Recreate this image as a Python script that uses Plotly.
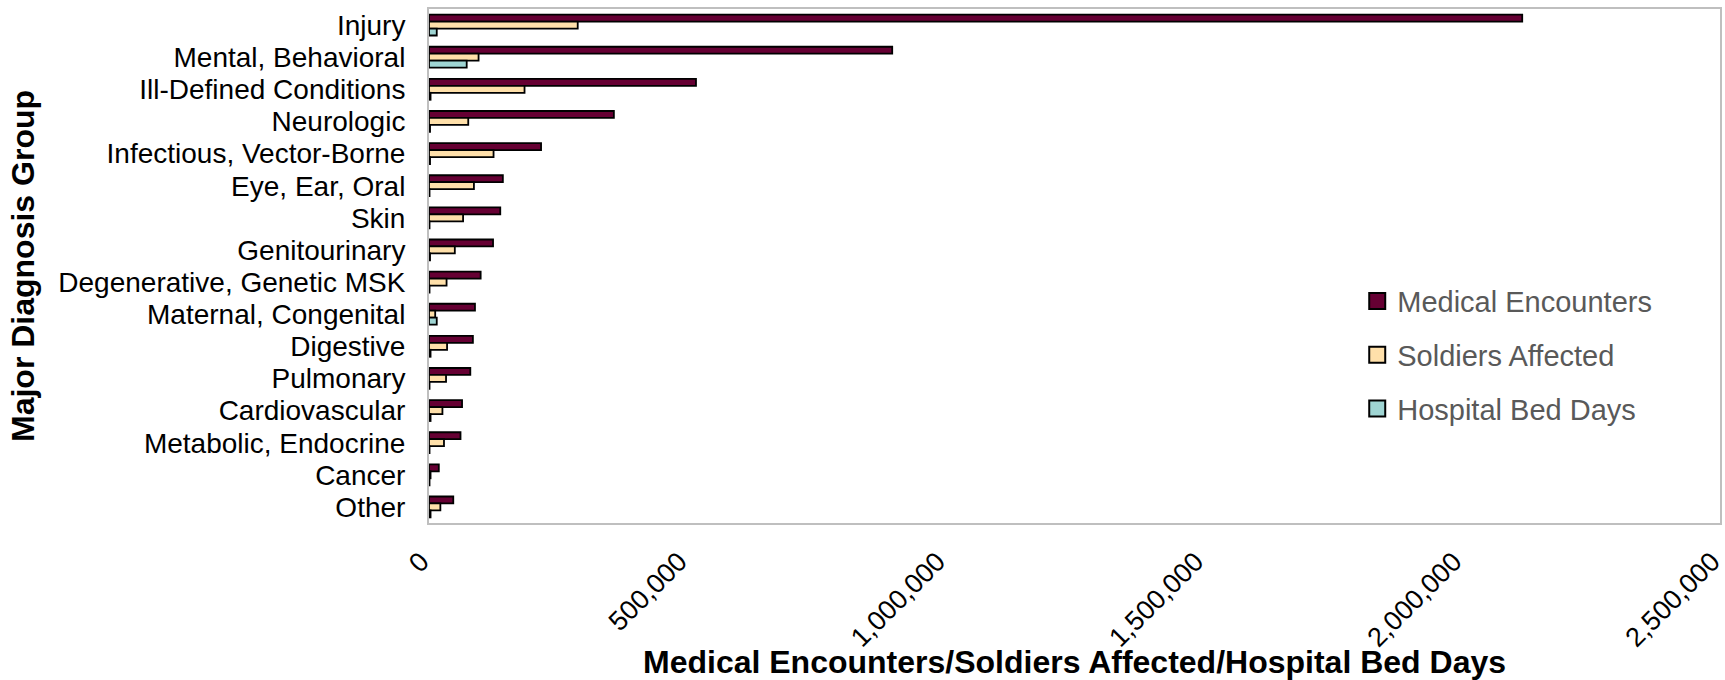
import plotly.graph_objects as go

categories = ["Injury", "Mental, Behavioral", "Ill-Defined Conditions", "Neurologic",
              "Infectious, Vector-Borne", "Eye, Ear, Oral", "Skin", "Genitourinary",
              "Degenerative, Genetic MSK", "Maternal, Congenital", "Digestive", "Pulmonary",
              "Cardiovascular", "Metabolic, Endocrine", "Cancer", "Other"]

medical_encounters = [2117000, 897000, 517000, 358000, 217000, 143000, 138000, 124000,
                      100000, 89000, 85000, 80000, 64000, 61000, 19000, 47000]
soldiers_affected = [288000, 96000, 185000, 76000, 125000, 87000, 66000, 50000,
                     34000, 12000, 35000, 33000, 26000, 29000, 3000, 22000]
hospital_bed_days = [15000, 73000, 3000, 2000, 2000, 1000, 1000, 2000,
                     1000, 15000, 3000, 1000, 3000, 1000, 1000, 3000]

x_tick_values = [0, 500000, 1000000, 1500000, 2000000, 2500000]

series_names = ["Medical Encounters", "Soldiers Affected", "Hospital Bed Days"]
series_values = [medical_encounters, soldiers_affected, hospital_bed_days]
series_colors = ["#660033", "#FFE0AA", "#9FD5D3"]

fig = go.Figure()
for i, (name, vals, color) in enumerate(zip(series_names, series_values, series_colors)):
    fig.add_trace(go.Bar(
        y=categories, x=vals, name=name, orientation="h",
        marker=dict(color=color, line=dict(color="#000000", width=1.8)),
        showlegend=False,
    ))
# legend entries with square swatches
for i, (name, color) in enumerate(zip(series_names, series_colors)):
    fig.add_trace(go.Scatter(
        x=[None], y=[None], name=name, mode="markers",
        marker=dict(symbol="square", size=16, color=color,
                    line=dict(color="#000000", width=2)),
        legendgroup=f"g{i}", showlegend=True, hoverinfo="skip",
    ))

FONT = "Liberation Sans, Arial, sans-serif"

fig.update_layout(
    width=1725, height=680,
    margin=dict(l=429, r=5, t=9, b=157, autoexpand=False),
    paper_bgcolor="white", plot_bgcolor="white",
    barmode="group", bargap=0.35, bargroupgap=0,
    font=dict(family=FONT, color="#000000"),
    showlegend=True,
    legend=dict(
        x=0.719, y=0.481, xanchor="left", yanchor="top",
        font=dict(family=FONT, size=29, color="#595959"),
        traceorder="grouped", tracegroupgap=13,
        bgcolor="rgba(0,0,0,0)",
    ),
    xaxis=dict(
        range=[0, 2500000], tickvals=x_tick_values, tickformat=",",
        tickangle=-45, tickfont=dict(size=27, family=FONT, color="#000000"),
        showgrid=False, zeroline=False, automargin=False,
        showline=True, linecolor="#BFBFBF", linewidth=2, mirror=True,
        ticks="", ticklabelstandoff=10, ticklabelshift=-8, ticklabeloverflow="allow",
        title=dict(text="<b>Medical Encounters/Soldiers Affected/Hospital Bed Days</b>",
                   font=dict(size=32, family=FONT, color="#000000"), standoff=4),
    ),
    yaxis=dict(
        categoryorder="array", categoryarray=categories, autorange="reversed",
        tickmode="array", tickvals=categories, ticktext=categories,
        tickfont=dict(size=28, family=FONT, color="#000000"),
        showgrid=False, zeroline=False, automargin=False,
        showline=True, linecolor="#BFBFBF", linewidth=2, mirror=True,
        ticks="", ticklabelstandoff=16,
        title=dict(text="<b>Major Diagnosis Group</b>",
                   font=dict(size=32, family=FONT, color="#000000"), standoff=14),
    ),
)

fig.write_html("out.html")
